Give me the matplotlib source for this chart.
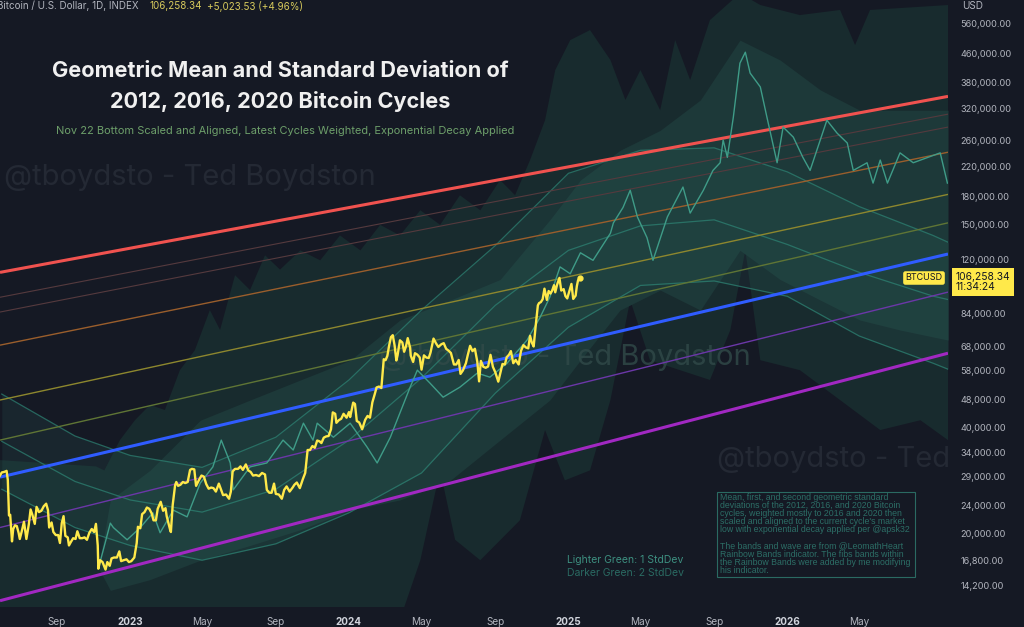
import matplotlib
matplotlib.use("Agg")
import matplotlib.pyplot as plt
from matplotlib.patches import Rectangle
import pandas as pd

BG = "#151924"
plt.rcParams['font.family'] = ['Inter', 'DejaVu Sans']

# BTC daily close (sampled every few days)
btc_dates = [
    "2022-05-28", "2022-06-01", "2022-06-05", "2022-06-09", "2022-06-11", "2022-06-13", "2022-06-15",
    "2022-06-18", "2022-06-20", "2022-06-23", "2022-06-26", "2022-06-29", "2022-07-01", "2022-07-04",
    "2022-07-08", "2022-07-12", "2022-07-16", "2022-07-19", "2022-07-22", "2022-07-26", "2022-07-29",
    "2022-08-02", "2022-08-06", "2022-08-10", "2022-08-14", "2022-08-17", "2022-08-19", "2022-08-23",
    "2022-08-26", "2022-08-30", "2022-09-03", "2022-09-06", "2022-09-09", "2022-09-12", "2022-09-15",
    "2022-09-19", "2022-09-21", "2022-09-24", "2022-09-28", "2022-10-02", "2022-10-05", "2022-10-09",
    "2022-10-13", "2022-10-17", "2022-10-21", "2022-10-25", "2022-10-29", "2022-11-02", "2022-11-05",
    "2022-11-08", "2022-11-09", "2022-11-12", "2022-11-16", "2022-11-21", "2022-11-24", "2022-11-28",
    "2022-12-01", "2022-12-05", "2022-12-10", "2022-12-14", "2022-12-17", "2022-12-21", "2022-12-26",
    "2022-12-30", "2023-01-03", "2023-01-08", "2023-01-12", "2023-01-14", "2023-01-18", "2023-01-21",
    "2023-01-25", "2023-01-29", "2023-02-02", "2023-02-06", "2023-02-09", "2023-02-13", "2023-02-16",
    "2023-02-21", "2023-02-25", "2023-03-01", "2023-03-03", "2023-03-09", "2023-03-10", "2023-03-13",
    "2023-03-17", "2023-03-19", "2023-03-22", "2023-03-26", "2023-03-30", "2023-04-03", "2023-04-07",
    "2023-04-11", "2023-04-14", "2023-04-18", "2023-04-21", "2023-04-26", "2023-04-30", "2023-05-04",
    "2023-05-08", "2023-05-12", "2023-05-16", "2023-05-20", "2023-05-24", "2023-05-29", "2023-06-01",
    "2023-06-05", "2023-06-10", "2023-06-15", "2023-06-18", "2023-06-21", "2023-06-25", "2023-06-30",
    "2023-07-04", "2023-07-08", "2023-07-13", "2023-07-17", "2023-07-21", "2023-07-25", "2023-07-30",
    "2023-08-04", "2023-08-09", "2023-08-14", "2023-08-17", "2023-08-21", "2023-08-25", "2023-08-29",
    "2023-09-01", "2023-09-06", "2023-09-11", "2023-09-15", "2023-09-19", "2023-09-24", "2023-09-29",
    "2023-10-02", "2023-10-06", "2023-10-11", "2023-10-16", "2023-10-20", "2023-10-24", "2023-10-28",
    "2023-11-01", "2023-11-05", "2023-11-09", "2023-11-13", "2023-11-16", "2023-11-20", "2023-11-24",
    "2023-11-28", "2023-12-02", "2023-12-05", "2023-12-09", "2023-12-11", "2023-12-15", "2023-12-19",
    "2023-12-23", "2023-12-28", "2024-01-01", "2024-01-03", "2024-01-08", "2024-01-11", "2024-01-14",
    "2024-01-18", "2024-01-23", "2024-01-28", "2024-02-01", "2024-02-05", "2024-02-09", "2024-02-13",
    "2024-02-16", "2024-02-20", "2024-02-24", "2024-02-28", "2024-03-02", "2024-03-05", "2024-03-08",
    "2024-03-11", "2024-03-14", "2024-03-17", "2024-03-20", "2024-03-22", "2024-03-26", "2024-03-30",
    "2024-04-02", "2024-04-05", "2024-04-08", "2024-04-12", "2024-04-13", "2024-04-17", "2024-04-20",
    "2024-04-24", "2024-04-28", "2024-05-01", "2024-05-05", "2024-05-09", "2024-05-13", "2024-05-16",
    "2024-05-21", "2024-05-25", "2024-05-29", "2024-06-03", "2024-06-07", "2024-06-11", "2024-06-15",
    "2024-06-19", "2024-06-24", "2024-06-28", "2024-07-02", "2024-07-05", "2024-07-09", "2024-07-14",
    "2024-07-17", "2024-07-21", "2024-07-25", "2024-07-29", "2024-08-02", "2024-08-05", "2024-08-08",
    "2024-08-12", "2024-08-16", "2024-08-20", "2024-08-24", "2024-08-28", "2024-09-01", "2024-09-06",
    "2024-09-10", "2024-09-13", "2024-09-17", "2024-09-20", "2024-09-24", "2024-09-27", "2024-10-01",
    "2024-10-05", "2024-10-10", "2024-10-14", "2024-10-18", "2024-10-22", "2024-10-26", "2024-10-29",
    "2024-11-01", "2024-11-04", "2024-11-07", "2024-11-11", "2024-11-13", "2024-11-16", "2024-11-19",
    "2024-11-22", "2024-11-26", "2024-11-29", "2024-12-02", "2024-12-05", "2024-12-08", "2024-12-10",
    "2024-12-13", "2024-12-17", "2024-12-20", "2024-12-24", "2024-12-27", "2024-12-30", "2025-01-03",
    "2025-01-06", "2025-01-09", "2025-01-13", "2025-01-15", "2025-01-17", "2025-01-20"]
btc_close = [
    29000, 29800, 29900, 30100, 28400, 22500, 22600,
    19000, 20600, 21100, 21000, 20100, 19300, 20200,
    21600, 19300, 21200, 23400, 22600, 21300, 23800,
    23000, 23200, 23900, 24300, 23300, 20800, 21500,
    20200, 19800, 19800, 18800, 21400, 22400, 19700,
    19500, 18500, 18900, 19400, 19300, 20300, 19400,
    19400, 19500, 19200, 20100, 20600, 20200, 21300,
    18500, 15900, 16800, 16600, 15800, 16600, 16200,
    17000, 17100, 17100, 17800, 16700, 16800, 16900,
    16600, 16700, 17100, 18800, 20900, 20700, 22700,
    23000, 23700, 23500, 22800, 21800, 21800, 23500,
    24600, 23200, 23600, 22400, 20400, 20200, 24100,
    27400, 28000, 27300, 27500, 28000, 27800, 28000,
    30300, 30500, 30400, 27300, 28400, 29200, 29000,
    27600, 26800, 27000, 26900, 26300, 27700, 26800,
    25700, 25800, 25100, 26300, 30000, 30500, 30500,
    31000, 30300, 31400, 30200, 29900, 29200, 29300,
    29100, 29700, 29400, 26600, 26100, 26100, 27700,
    25900, 25800, 25100, 26600, 27200, 26300, 27000,
    27500, 27900, 26900, 28500, 29700, 34500, 34500,
    35400, 35000, 36700, 36500, 36100, 37400, 37700,
    37800, 39500, 44100, 43700, 41200, 41900, 42300,
    43700, 42600, 44200, 42800, 47000, 46600, 41700,
    41300, 39500, 42000, 43100, 42600, 47100, 49700,
    51900, 52200, 51700, 62400, 62000, 63800, 68300,
    72100, 73000, 68400, 61900, 64000, 70600, 69600,
    65500, 67800, 71600, 67200, 63900, 61300, 64900,
    64300, 63100, 58300, 64000, 63100, 62900, 65200,
    71400, 69300, 67600, 68800, 69300, 66800, 66000,
    65000, 60300, 60300, 62100, 56700, 58000, 60800,
    64000, 68100, 65800, 66800, 61400, 54000, 61700,
    59400, 59000, 59500, 64200, 59400, 57300, 53900,
    57600, 60500, 60300, 63200, 64300, 65800, 60800,
    62100, 60300, 66000, 68400, 67400, 67000, 72700,
    69500, 67800, 76500, 88700, 90000, 90600, 92300,
    98900, 91900, 97400, 95800, 97800, 101200, 96600,
    101400, 106100, 97700, 98600, 94200, 92800, 98100,
    102000, 92500, 94500, 100500, 104400, 106258]

# weighted geometric mean path of the prior cycles
mean_dates = ["2022-11-09", "2022-11-29", "2022-12-04", "2022-12-27", "2023-01-18", "2023-02-08",
              "2023-02-20", "2023-03-14", "2023-04-06", "2023-04-28", "2023-05-19", "2023-06-02",
              "2023-06-17", "2023-06-22", "2023-07-20", "2023-08-17", "2023-09-13", "2023-09-30",
              "2023-10-17", "2023-11-02", "2023-11-09", "2023-12-06", "2024-01-03", "2024-01-31",
              "2024-02-17", "2024-03-10", "2024-04-12", "2024-04-24", "2024-05-15", "2024-06-06",
              "2024-07-04", "2024-08-02", "2024-08-23", "2024-09-21", "2024-10-24", "2024-11-15",
              "2024-12-01", "2024-12-18", "2025-01-04", "2025-01-21", "2025-02-11", "2025-03-12",
              "2025-03-17", "2025-04-02", "2025-04-14", "2025-04-26", "2025-05-12", "2025-05-22",
              "2025-06-15", "2025-07-11", "2025-07-23", "2025-08-14", "2025-08-30", "2025-09-11",
              "2025-09-16", "2025-09-23", "2025-10-03", "2025-10-14", "2025-10-23", "2025-10-31",
              "2025-11-17", "2025-11-28", "2025-12-15", "2025-12-25", "2026-01-11", "2026-01-27",
              "2026-02-08", "2026-03-08", "2026-03-25", "2026-04-11", "2026-04-21", "2026-05-14",
              "2026-05-24", "2026-06-05", "2026-06-17", "2026-07-08", "2026-07-30", "2026-09-13",
              "2026-09-25"]
mean_vals = [15900, 21400, 20800, 19200, 20800, 22900,
             20100, 23300, 22300, 27800, 30900, 36800,
             31700, 26600, 30900, 31700, 36800, 34500,
             41100, 36800, 41100, 37500, 41100, 35200,
             31700, 37500, 52000, 58100, 53400, 48700,
             52000, 57000, 55500, 60900, 70700, 82200,
             93600, 114000, 109000, 125000, 119000, 142000,
             152000, 168000, 188000, 158000, 138000, 119000,
             158000, 192000, 162000, 188000, 214000, 225000,
             261000, 233000, 303000, 431000, 463000, 404000,
             369000, 303000, 225000, 284000, 266000, 233000,
             214000, 297000, 273000, 256000, 214000, 225000,
             197000, 229000, 197000, 240000, 225000, 240000,
             197000]

# 2 StdDev envelope (upper and lower edges)
sd2_up_dates = ["2022-05-29", "2022-11-05", "2022-11-19", "2022-12-15", "2023-01-09", "2023-02-03",
                "2023-02-28", "2023-03-25", "2023-04-19", "2023-05-14", "2023-05-31", "2023-06-25",
                "2023-07-20", "2023-08-14", "2023-09-08", "2023-10-12", "2023-11-14", "2023-12-17",
                "2024-01-20", "2024-02-22", "2024-03-26", "2024-04-29", "2024-06-01", "2024-07-04",
                "2024-08-07", "2024-09-09", "2024-10-04", "2024-10-29", "2024-11-23", "2024-12-10",
                "2025-01-04", "2025-02-06", "2025-03-12", "2025-04-06", "2025-05-01", "2025-06-03",
                "2025-06-28", "2025-07-23", "2025-08-25", "2025-10-14", "2025-11-17", "2026-01-22",
                "2026-03-30", "2026-04-24", "2026-05-19", "2026-09-26"]
sd2_up_vals = [32300, 31000, 30200, 36800, 41900, 46300,
               44800, 58100, 66200, 86000, 75500, 108000,
               98000, 123000, 112000, 127000, 119000, 140000,
               127000, 150000, 140000, 165000, 150000, 182000,
               165000, 201000, 182000, 229000, 297000, 412000,
               501000, 535000, 440000, 339000, 412000, 317000,
               501000, 386000, 571000, 680000, 630000, 590000,
               610000, 485000, 610000, 630000]
sd2_lo_dates = ["2022-05-29", "2024-03-26", "2024-04-29", "2024-06-01", "2024-06-26",
                "2024-08-07", "2024-10-12", "2024-11-23", "2024-12-26", "2025-02-06", "2025-03-12",
                "2025-04-14", "2025-05-17", "2025-07-06", "2025-08-25", "2025-09-28", "2025-10-23",
                "2025-11-17", "2026-01-22", "2026-03-30", "2026-06-05", "2026-08-11", "2026-09-26"]
sd2_lo_vals = [11400, 11400, 16800, 30200, 19200,
               16800, 21800, 39300, 28300, 30200, 47800,
               91800, 62000, 58100, 54500, 75500, 127000,
               62000, 58100, 47800, 39300, 41900, 36800]

# 1 StdDev band
sd1_dates = ["2022-11-09", "2022-11-29", "2023-02-03", "2023-04-28", "2023-07-20", "2023-10-12",
             "2024-01-03", "2024-03-26", "2024-06-18", "2024-09-09", "2024-12-01", "2025-01-21",
             "2025-03-28", "2025-06-03", "2025-08-09", "2025-10-14", "2025-12-20", "2026-02-25",
             "2026-05-02", "2026-07-08", "2026-09-26"]
sd1_upper = [16000, 24900, 30200, 41900, 47800, 54500,
             62000, 80600, 91800, 105000, 155000, 201000,
             244000, 278000, 339000, 501000, 440000, 362000,
             317000, 317000, 317000]
sd1_lower = [16000, 13800, 14800, 16800, 18500, 20500,
             23300, 24900, 28300, 36800, 47800, 62000,
             86000, 98000, 86000, 127000, 105000, 91800,
             80600, 75500, 70700]

# rainbow-band wave (three arcs)
wave_dates = ["2022-06-01", "2022-10-01", "2023-01-01", "2023-05-01", "2023-09-01", "2024-01-01",
              "2024-05-01", "2024-09-01", "2025-01-01", "2025-05-01", "2025-09-01", "2026-01-01",
              "2026-05-01", "2026-09-01", "2026-09-30"]
wave_top = [49700, 37800, 33300, 30800, 37500, 54500, 86000, 131000, 210000, 244000, 248000,
            212000, 169000, 140000, 133000]
wave_mid = [36500, 28100, 24900, 23000, 26700, 36800, 55200, 88700, 127000, 149000, 155000,
            132000, 110000, 94200, 91800]
wave_low = [26700, 20800, 18500, 16800, 18700, 22900, 29700, 50000, 76900, 101000, 104000,
            94100, 72600, 60800, 58100]

# rainbow bands / fib lines: value at start and end of the view
rb_dates = ["2022-05-29", "2026-09-26"]
rb_start = [110000, 93500, 84900, 68400, 47800, 36800, 28900, 20800, 12900]
rb_end = [347000, 309000, 284000, 241000, 183000, 152000, 124000, 96700, 64900]
rb_colors = ["#f0524f", "#553a3e", "#553a3e", "#9a5e2c", "#8d872e", "#5f7535", "#2f5cff",
             "#6b37a8", "#a128c2"]
rb_widths = [2.2, 0.8, 0.8, 1.0, 1.0, 1.0, 2.2, 1.0, 2.2]

y_ticks = [560000, 460000, 380000, 320000, 260000, 220000, 180000, 150000, 120000, 84000,
           68000, 58000, 48000, 40000, 34000, 29000, 24000, 20000, 16800, 14200]
x_ticks = ["2022-09-01", "2023-01-01", "2023-05-01", "2023-09-01", "2024-01-01", "2024-05-01",
           "2024-09-01", "2025-01-01", "2025-05-01", "2025-09-01", "2026-01-01", "2026-05-01"]
x_labels = ["Sep", "2023", "May", "Sep", "2024", "May", "Sep", "2025", "May", "Sep", "2026", "May"]

D = pd.to_datetime

fig = plt.figure(figsize=(10.24, 6.27), dpi=100, facecolor=BG)
ax = fig.add_axes([0, 20 / 627, 948 / 1024, 607 / 627])
ax.set_facecolor(BG)
ax.set_yscale("log")

# envelopes
ax.fill(list(D(sd2_up_dates)) + list(D(sd2_lo_dates))[::-1],
        sd2_up_vals + sd2_lo_vals[::-1], color="#182b2e", lw=0, zorder=1)
ax.fill_between(D(sd1_dates), sd1_lower, sd1_upper, color="#1d3939", lw=0, zorder=1.5)
ax.fill_between(D(wave_dates), wave_low, wave_top, color="#2f6b63", alpha=0.16, lw=0, zorder=2)

# watermarks (the right one runs off the plot edge)
wm = dict(fontsize=21, color="#242934", zorder=2.5, clip_on=True, va="center")
ax.text(D("2022-06-05"), 205000, "@tboydsto - Ted Boydston", **wm)
ax.text(D("2024-02-20"), 63000, "@tboydsto - Ted Boydston", va="center", color="#314a49",
        fontsize=21, zorder=2.5, alpha=0.8)
ax.text(D("2025-09-05"), 32500, "@tboydsto - Ted", **wm)

for vals in (wave_top, wave_mid, wave_low):
    ax.plot(D(wave_dates), vals, color="#2e8676", lw=0.9, alpha=0.7, zorder=3)

for s, e, c, w in zip(rb_start, rb_end, rb_colors, rb_widths):
    ax.plot(D(rb_dates), [s, e], color=c, lw=w, zorder=4, solid_capstyle="butt")

ax.plot(D(mean_dates), mean_vals, color="#3f9c88", lw=1.0, zorder=5)
ax.plot(D(btc_dates), btc_close, color="#ffe94a", lw=1.7, zorder=6)
ax.plot(D(btc_dates[-1:]), btc_close[-1:], "o", color="#ffe94a", ms=3.5, zorder=6)

ax.set_xlim(D("2022-05-29"), D("2026-09-26"))
ax.set_ylim(12380, 651000)

ax.yaxis.tick_right()
ax.set_yticks(y_ticks)
ax.set_yticklabels([f"{v:,.2f}" for v in y_ticks])
ax.yaxis.set_minor_locator(matplotlib.ticker.NullLocator())
ax.tick_params(axis="y", length=0, pad=9, labelsize=6.6, labelcolor="#b2b5be")
ax.set_xticks(D(x_ticks))
ax.set_xticklabels(x_labels)
ax.tick_params(axis="x", length=0, pad=7, labelsize=7.2, labelcolor="#b2b5be")
for lbl in ax.get_xticklabels():
    if lbl.get_text().isdigit():
        lbl.set_fontweight("bold")
        lbl.set_color("#d1d4dc")
for sp in ax.spines.values():
    sp.set_visible(False)

# header
fig.text(-0.003, 1 - 6 / 627, "Bitcoin / U.S. Dollar, 1D, INDEX", fontsize=7.1, color="#b2b5be",
         va="center")
fig.text(149 / 1024, 1 - 6 / 627, "106,258.34", fontsize=7.1, color="#d6c95c", va="center")
fig.text(207 / 1024, 1 - 6 / 627, "+5,023.53 (+4.96%)", fontsize=7.1, color="#d6c95c", va="center")
fig.text(962 / 1024, 1 - 6 / 627, "USD", fontsize=7.2, color="#b2b5be", va="center")

# title
fig.text(280 / 1024, 1 - 71 / 627, "Geometric Mean and Standard Deviation of", fontsize=15.6,
         fontweight="bold", color="#f0f0f0", ha="center", va="center")
fig.text(280 / 1024, 1 - 102 / 627, "2012, 2016, 2020 Bitcoin Cycles", fontsize=15.6,
         fontweight="bold", color="#f0f0f0", ha="center", va="center")
fig.text(285 / 1024, 1 - 131 / 627,
         "Nov 22 Bottom Scaled and Aligned, Latest Cycles Weighted, Exponential Decay Applied",
         fontsize=7.95, color="#6d9f6a", ha="center", va="center")

# legend notes
fig.text(567 / 1024, 1 - 560 / 627, "Lighter Green: 1 StdDev", fontsize=7.5, color="#3d8f80",
         va="center")
fig.text(567 / 1024, 1 - 573 / 627, "Darker Green: 2 StdDev", fontsize=7.5, color="#2a6a62",
         va="center")

note = ("Mean, first, and second geometric standard\n"
        "deviations of the 2012, 2016, and 2020 Bitcoin\n"
        "cycles, weighted mostly to 2016 and 2020 then\n"
        "scaled and aligned to the current cycle's market\n"
        "low with exponential decay applied per @apsk32\n\n"
        "The bands and wave are from @LeomathHeart\n"
        "Rainbow Bands indicator. The fibs bands within\n"
        "the Rainbow Bands were added by me modifying\n"
        "his indicator.")
fig.text(720 / 1024, 1 - 493 / 627, note, fontsize=6.3, color="#2c6e66", va="top", ha="left",
         linespacing=0.87, family="Liberation Sans")
fig.patches.append(Rectangle((717 / 1024, 1 - 577 / 627), 198 / 1024, 85 / 627,
                             transform=fig.transFigure, fill=False, ec="#2a6a62", lw=0.8))

# last price tags
fig.text(924 / 1024, 1 - 278 / 627, "BTCUSD", fontsize=6.5, color="#131722", ha="center",
         va="center", bbox=dict(boxstyle="round,pad=0.25", fc="#ffe94a", ec="none"))
fig.text(956 / 1024, 1 - 282 / 627, "106,258.34\n11:34:24", fontsize=7.4, color="#131722",
         ha="left", va="center", linespacing=1.0,
         bbox=dict(boxstyle="square,pad=0.35", fc="#ffe94a", ec="none"))

fig.savefig("out.png", dpi=100, facecolor=BG)
